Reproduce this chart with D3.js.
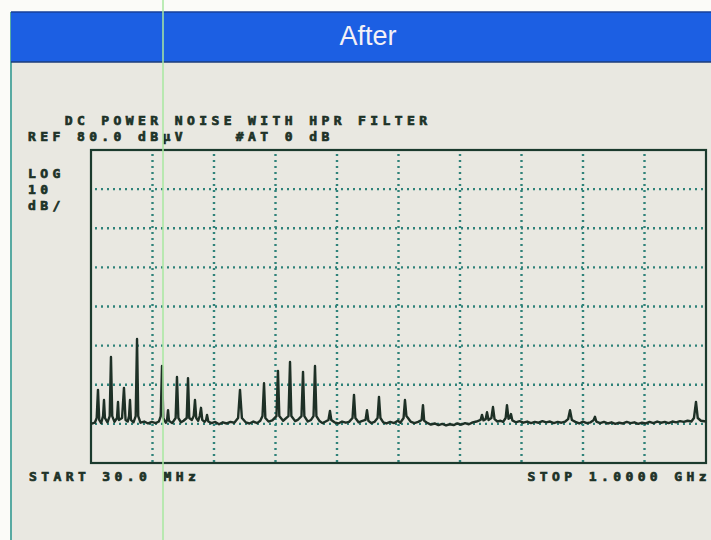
<!DOCTYPE html>
<html lang="en">

<head>
    <meta charset="UTF-8">
    <title>DC Power Noise - After</title>
    <script src="https://d3js.org/d3.v7.min.js"></script>
    <style>
        body {
            margin: 0;
            background: #fbfbf8;
        }

        .crt {
            font-family: "DejaVu Sans Mono", "Liberation Mono", monospace;
            font-weight: bold;
            font-size: 13px;
            letter-spacing: 4.4px;
            fill: #1d3227;
            stroke: #1d3227;
            stroke-width: 0.7px;
            white-space: pre;
        }
    </style>
</head>

<body>
    <svg width="711" height="540"></svg>

    <script>
        // screen texts of the analyser
        const titleLines = ["   DC POWER NOISE WITH HPR FILTER", "REF 80.0 dB\u00b5V    #AT 0 dB"];
        const scaleLines = ["LOG", "10", "dB/"];
        const startLabel = "START 30.0 MHz";
        const stopLabel = "STOP 1.0000 GHz";
        const headerText = "After";

        // sweep: 30 MHz .. 1000 MHz, ref level 80 dBuV, 10 dB/div
        const freqStart = 30, freqStop = 1000;
        const refLevel = 80, dbPerDiv = 10, yDivs = 8, xDivs = 10;

        // trace, [MHz, dBuV]
        const trace = [
            [30, 10.0], [36, 10.3], [39, 11.5], [41, 18.7], [43, 11.0], [46, 10.2], [49, 12.0], [50.5, 16.1],
            [52, 11.5], [56, 10.4], [59.5, 12.0], [61.5, 27.1], [63.5, 12.0], [67, 10.5], [71, 11.5], [72.6, 15.6],
            [74, 11.0], [79, 11.5], [82, 19.2], [84.5, 11.0], [88, 10.6], [90, 12.0], [91.5, 16.1], [93, 11.0],
            [97, 10.4], [100.5, 12.0], [102.6, 31.7], [104.5, 12.0], [108, 10.3], [114, 10.6], [120, 10.1],
            [126, 10.5], [132, 10.2], [137, 10.6], [140, 12.0], [142, 24.8], [144, 11.5], [148, 10.3], [150, 11.0],
            [151.5, 13.5], [153, 10.8], [158, 10.2], [163.5, 11.5], [165.6, 22.0], [167.8, 11.5], [172, 10.4],
            [176, 10.8], [181, 11.5], [183, 21.7], [185, 11.5], [189, 11.0], [192, 12.0], [194, 16.1], [196, 11.5],
            [199, 10.8], [201.5, 12.0], [203.5, 14.1], [205.5, 11.0], [209, 10.5], [211.5, 11.0], [213, 12.3],
            [215, 10.6], [220, 10.2], [226, 10.5], [232, 9.9], [238, 10.4], [244, 10.1], [250, 10.5], [256, 10.3],
            [262, 11.5], [265, 18.7], [268, 11.5], [274, 10.4], [280, 10.1], [286, 10.6], [292, 10.2], [297, 10.8],
            [300.5, 12.0], [302.9, 20.4], [305, 11.5], [310, 10.6], [316, 10.9], [322.5, 12.0], [324.9, 23.5],
            [327, 12.0], [333, 10.8], [341.5, 12.0], [343.9, 25.8], [346, 12.0], [352, 10.7], [356, 11.0],
            [362, 12.0], [364.4, 23.3], [366.5, 12.0], [372, 10.6], [377, 11.0], [381, 12.0], [383.3, 24.8],
            [385.5, 12.0], [390, 10.8], [395, 10.2], [400, 10.6], [404.5, 11.0], [406.9, 13.3], [409, 11.0],
            [414, 10.4], [420, 10.1], [426, 10.6], [432, 10.3], [437, 10.5], [442.5, 11.5], [444.8, 17.4],
            [447, 11.5], [452, 10.4], [457, 10.7], [463, 11.0], [465.3, 13.5], [467.5, 10.8], [472, 10.2],
            [477, 10.5], [482, 11.5], [484.2, 16.9], [486.5, 11.5], [491, 10.4], [496, 10.1], [502, 10.5],
            [508, 10.2], [514, 10.8], [518, 10.3], [523, 11.5], [525.2, 16.1], [527.5, 12.0], [530, 11.5],
            [534, 10.6], [540, 10.2], [546, 10.5], [551.5, 11.0], [553.6, 14.8], [555.5, 10.8], [560, 10.3],
            [566, 9.8], [572, 10.1], [578, 9.7], [584, 10.0], [590, 9.6], [596, 9.9], [602, 9.7], [608, 10.1],
            [614, 9.8], [620, 10.2], [626, 9.9], [632, 10.4], [638, 10.6], [644.5, 11.0], [646.7, 12.3],
            [649, 10.9], [652.5, 11.2], [654.6, 13.0], [657, 11.0], [661.5, 11.5], [664, 14.3], [666.5, 11.2],
            [671, 10.6], [676, 10.8], [680, 10.5], [684, 11.5], [686.1, 14.8], [688.5, 11.3], [690.5, 11.5],
            [692.4, 12.5], [694.5, 10.9], [700, 10.4], [706, 10.7], [712, 10.3], [718, 10.6], [724, 10.2],
            [730, 10.5], [736, 10.3], [742, 10.7], [748, 10.4], [754, 10.6], [760, 10.2], [766, 10.5],
            [772, 10.3], [778, 10.6], [782.5, 11.2], [785.5, 13.5], [788.5, 11.0], [794, 10.5], [800, 10.1],
            [806, 10.6], [812, 10.2], [818, 10.4], [822.5, 10.9], [824.9, 11.8], [827, 10.6], [833, 10.2],
            [839, 10.5], [845, 10.1], [851, 10.4], [857, 10.0], [863, 10.3], [869, 10.1], [875, 10.5],
            [881, 10.2], [887, 10.4], [893, 10.0], [899, 10.3], [905, 10.1], [911, 10.5], [917, 10.2],
            [923, 10.6], [929, 10.3], [935, 10.5], [941, 10.2], [947, 10.6], [953, 10.4], [959, 10.7],
            [965, 10.5], [971, 10.8], [977, 10.6], [981, 11.5], [984.2, 15.6], [987, 11.5], [992, 10.8],
            [1000, 10.6]
        ];

        const svg = d3.select("svg");

        const plot = { left: 91, right: 706, top: 150, bottom: 463 };

        const x = d3.scaleLinear().domain([freqStart, freqStop]).range([plot.left, plot.right]);
        const y = d3.scaleLinear().domain([refLevel - yDivs * dbPerDiv, refLevel]).range([plot.bottom, plot.top]);

        // page / panel
        svg.append("rect").attr("x", 11).attr("y", 12).attr("width", 700).attr("height", 528)
            .attr("fill", "#e9e8e1");
        svg.append("line").attr("x1", 11).attr("x2", 11).attr("y1", 12).attr("y2", 540)
            .attr("stroke", "#58aaa2").attr("stroke-width", 2);

        // blue header
        svg.append("rect").attr("x", 11).attr("y", 12).attr("width", 700).attr("height", 50)
            .attr("fill", "#1c5fe3");
        svg.append("line").attr("x1", 11).attr("x2", 711).attr("y1", 12).attr("y2", 12)
            .attr("stroke", "#173f98").attr("stroke-width", 1.5);
        svg.append("line").attr("x1", 11).attr("x2", 711).attr("y1", 62).attr("y2", 62)
            .attr("stroke", "#1d3c7a").attr("stroke-width", 1.5);
        svg.append("text").attr("x", 368).attr("y", 45)
            .attr("text-anchor", "middle")
            .attr("font-family", "Liberation Sans, Arial, sans-serif")
            .attr("font-size", 27)
            .attr("fill", "#f4f1f6")
            .text(headerText);

        // dotted graticule
        const grid = svg.append("g").attr("class", "grid")
            .attr("stroke", "#2f8279").attr("stroke-width", 2.4).attr("stroke-dasharray", "2 4");

        grid.selectAll("line.v")
            .data(d3.range(1, xDivs).map(i => freqStart + i * (freqStop - freqStart) / xDivs))
            .enter()
            .append("line").attr("class", "v")
            .attr("x1", d => x(d)).attr("x2", d => x(d))
            .attr("y1", plot.top + 4).attr("y2", plot.bottom);

        grid.selectAll("line.h")
            .data(d3.range(1, yDivs).map(i => refLevel - i * dbPerDiv))
            .enter()
            .append("line").attr("class", "h")
            .attr("x1", plot.left + 4).attr("x2", plot.right)
            .attr("y1", d => y(d)).attr("y2", d => y(d));

        // frame
        svg.append("rect")
            .attr("x", plot.left).attr("y", plot.top)
            .attr("width", plot.right - plot.left).attr("height", plot.bottom - plot.top)
            .attr("fill", "none").attr("stroke", "#1b3a2d").attr("stroke-width", 2.2);

        // trace
        const line = d3.line().x(d => x(d[0])).y(d => y(d[1]));
        svg.append("path")
            .datum(trace)
            .attr("d", line)
            .attr("fill", "none")
            .attr("stroke", "#1e3026")
            .attr("stroke-width", 2.4)
            .attr("stroke-linejoin", "round");

        // annotations
        svg.selectAll("text.title")
            .data(titleLines)
            .enter()
            .append("text").attr("class", "crt")
            .attr("x", 28).attr("y", (d, i) => 125 + i * 16)
            .text(d => d);

        svg.selectAll("text.scale")
            .data(scaleLines)
            .enter()
            .append("text").attr("class", "crt")
            .attr("x", 28).attr("y", (d, i) => 178 + i * 16)
            .text(d => d);

        svg.append("text").attr("class", "crt")
            .attr("x", 29).attr("y", 481)
            .text(startLabel);

        svg.append("text").attr("class", "crt")
            .attr("x", 711).attr("y", 481)
            .attr("text-anchor", "end")
            .text(stopLabel);

        // scanner streak
        svg.append("line").attr("x1", 163).attr("x2", 163).attr("y1", 0).attr("y2", 540)
            .attr("stroke", "#a8e8a0").attr("stroke-width", 2).attr("opacity", 0.75);
    </script>
</body>

</html>
